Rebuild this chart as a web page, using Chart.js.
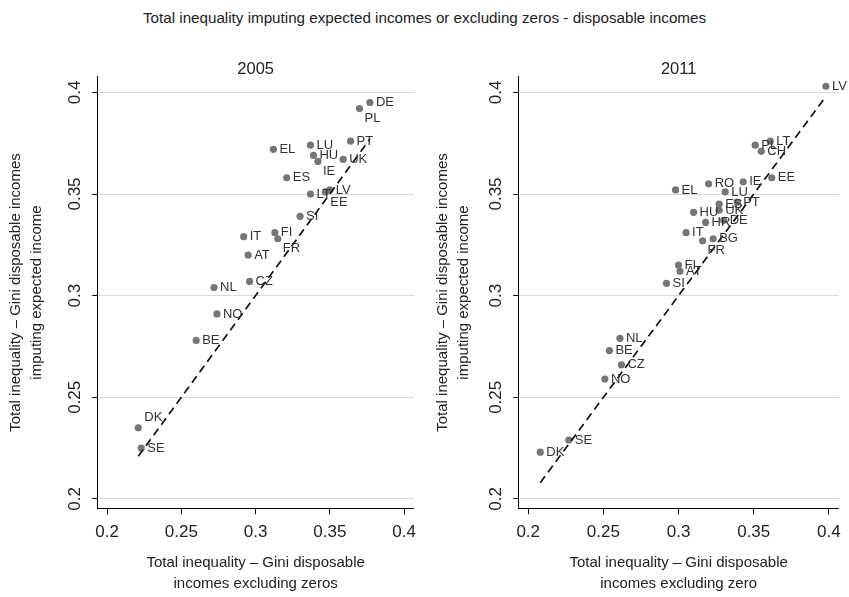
<!DOCTYPE html>
<html>
<head>
<meta charset="utf-8">
<script src="https://cdn.jsdelivr.net/npm/chart.js@4.4.1/dist/chart.umd.min.js"></script>
<style>
  html, body { margin: 0; padding: 0; background: #fff; }
  #wrap { position: relative; width: 849px; height: 597px; overflow: hidden; }
  #mainTitle {
    position: absolute; top: 9px; left: 0; width: 849px; text-align: center;
    font: 15.2px "Liberation Sans", Arial, sans-serif; color: #222;
  }
  canvas { position: absolute; top: 0; }
</style>
</head>
<body>
<div id="wrap">
  <div id="mainTitle">Total inequality imputing expected incomes or excluding zeros - disposable incomes</div>
  <canvas id="c2005" width="424" height="597" style="left:0"></canvas>
  <canvas id="c2011" width="425" height="597" style="left:424px"></canvas>
</div>
<script>
// ---- data ----
const countries2005 = ["DE","PL","PT","LU","EL","HU","IE","UK","ES","LV","LT","EE","SI","IT","FI","FR","AT","NL","CZ","NO","BE","DK","SE"];
const excl2005 =      [0.377,0.370,0.364,0.337,0.312,0.339,0.342,0.359,0.321,0.350,0.337,0.347,0.330,0.292,0.313,0.315,0.295,0.272,0.296,0.274,0.260,0.221,0.223];
const imput2005 =     [0.395,0.392,0.376,0.374,0.372,0.369,0.366,0.367,0.358,0.352,0.350,0.351,0.339,0.329,0.331,0.328,0.320,0.304,0.307,0.291,0.278,0.235,0.225];

const countries2011 = ["LV","PL","LT","CH","EE","IE","RO","EL","LU","ES","PT","UK","HU","DE","HR","IT","BG","FR","FI","AT","SI","NL","BE","CZ","NO","SE","DK"];
const excl2011 =      [0.398,0.351,0.361,0.355,0.362,0.343,0.320,0.298,0.331,0.327,0.339,0.327,0.310,0.330,0.318,0.305,0.323,0.316,0.300,0.301,0.292,0.261,0.254,0.262,0.251,0.227,0.208];
const imput2011 =     [0.403,0.374,0.376,0.371,0.358,0.356,0.355,0.352,0.351,0.345,0.346,0.342,0.341,0.337,0.336,0.331,0.328,0.327,0.315,0.312,0.306,0.279,0.273,0.266,0.259,0.229,0.223];

// 45-degree reference line, from smallest to largest x in each year
const diag2005 = [0.221, 0.377];
const diag2011 = [0.208, 0.398];

const xTicks = [0.2, 0.25, 0.3, 0.35, 0.4];
const yTicks = [0.2, 0.25, 0.3, 0.35, 0.4];

// labels not placed at 3 o'clock
const labelSpots = {
  "2005": { PL: "br", IE: "br", EE: "br", FR: "br", DK: "tr" },
  "2011": { FR: "br" }
};

const FONT = '"Liberation Sans", Arial, sans-serif';
const INK = "#222";

// point labels (Stata mlabel style)
const pointLabels = {
  id: "pointLabels",
  afterDatasetsDraw(chart, args, opts) {
    const meta = chart.getDatasetMeta(1);
    const ctx = chart.ctx;
    ctx.save();
    ctx.font = "13px " + FONT;
    ctx.fillStyle = "#333";
    ctx.textBaseline = "middle";
    ctx.textAlign = "left";
    meta.data.forEach((pt, i) => {
      const name = opts.names[i];
      const spot = opts.spots[name];
      let dx = 6, dy = 0;
      if (spot === "br") { dx = 5; dy = 10; }
      if (spot === "tr") { dx = 6; dy = -10; }
      ctx.fillText(name, pt.x + dx, pt.y + dy);
    });
    ctx.restore();
  }
};

// rotated y tick labels + panel title over the plot area
const panelText = {
  id: "panelText",
  afterDraw(chart, args, opts) {
    const ctx = chart.ctx;
    const area = chart.chartArea;
    const ys = chart.scales.y;
    ctx.save();
    ctx.fillStyle = INK;
    ctx.font = "17px " + FONT;
    ctx.textAlign = "center";
    ctx.textBaseline = "middle";
    yTicks.forEach(v => {
      const py = ys.getPixelForValue(v);
      ctx.save();
      ctx.translate(area.left - 22, py);
      ctx.rotate(-Math.PI / 2);
      ctx.fillText(String(v), 0, 0);
      ctx.restore();
    });
    ctx.font = "16.5px " + FONT;
    ctx.fillText(opts.title, (area.left + area.right) / 2, 69);
    ctx.restore();
  }
};

function makePanel(id, year, names, xs, ys, diag, layout) {
  const pts = xs.map((x, i) => ({ x, y: ys[i] }));
  return new Chart(document.getElementById(id), {
    type: "scatter",
    data: {
      datasets: [
        {
          type: "line",
          data: diag.map(v => ({ x: v, y: v })),
          borderColor: "#111",
          borderWidth: 1.7,
          borderDash: [8, 5],
          pointRadius: 0,
          fill: false
        },
        {
          data: pts,
          backgroundColor: "#767676",
          borderWidth: 0,
          pointRadius: 3.6
        }
      ]
    },
    options: {
      responsive: false,
      animation: false,
      layout: { padding: { top: 76.7, right: layout.right, bottom: 0, left: 0 } },
      plugins: {
        legend: { display: false },
        tooltip: { enabled: false },
        pointLabels: { names, spots: labelSpots[year] },
        panelText: { title: year }
      },
      scales: {
        x: {
          type: "linear",
          min: 0.1934,
          max: 0.4067,
          afterBuildTicks: s => { s.ticks = xTicks.map(v => ({ value: v })); },
          afterFit: s => { s.height = 88.7; },
          border: { display: true, color: "#000", width: 1 },
          grid: { drawOnChartArea: false, drawTicks: true, tickLength: 6, tickColor: "#000" },
          ticks: {
            font: { size: 17, family: FONT },
            color: INK,
            padding: 8,
            maxRotation: 0,
            callback: v => String(v)
          },
          title: {
            display: true,
            text: layout.xTitle,
            font: { size: 15, family: FONT, lineHeight: 1.4 },
            color: INK,
            padding: { top: 0, bottom: 2.5 }
          }
        },
        y: {
          type: "linear",
          min: 0.1954,
          max: 0.4077,
          afterBuildTicks: s => { s.ticks = yTicks.map(v => ({ value: v })); },
          afterFit: s => { s.width = layout.yWidth; },
          border: { display: true, color: "#000", width: 1 },
          grid: { color: "#d9d9d9", lineWidth: 1, drawTicks: true, tickLength: 5, tickColor: "#000" },
          ticks: { display: false },
          title: {
            display: true,
            text: ["Total inequality \u2013 Gini disposable incomes", "imputing expected income"],
            font: { size: 15, family: FONT, lineHeight: 1.35 },
            color: INK,
            padding: { top: layout.yTitlePad, bottom: 0 }
          }
        }
      }
    },
    plugins: [pointLabels, panelText]
  });
}

makePanel("c2005", "2005", countries2005, excl2005, imput2005, diag2005, {
  right: 5, yWidth: 97.3, yTitlePad: 6,
  xTitle: ["Total inequality \u2013 Gini disposable", "incomes excluding zeros"]
});
makePanel("c2011", "2011", countries2011, excl2011, imput2011, diag2011, {
  right: 9, yWidth: 94.3, yTitlePad: 9,
  xTitle: ["Total inequality \u2013 Gini disposable", "incomes excluding zero"]
});
</script>
</body>
</html>
